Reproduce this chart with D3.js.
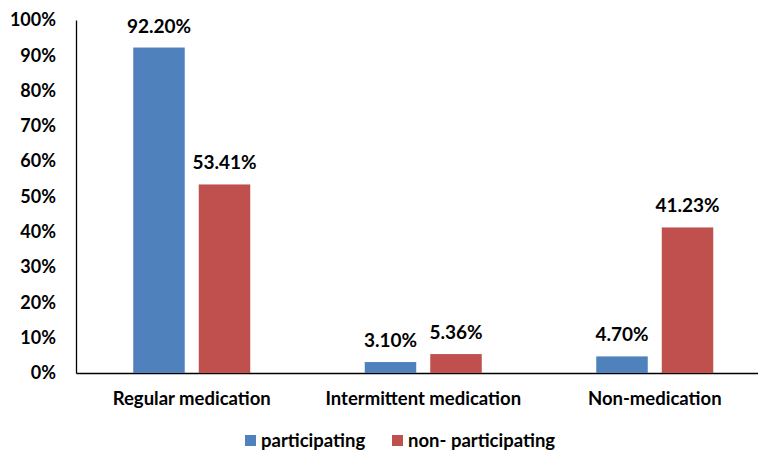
<!DOCTYPE html>
<html>
<head>
<meta charset="utf-8">
<script src="https://cdn.jsdelivr.net/npm/d3@7"></script>
<style>
  body { margin: 0; background: #fff; }
  text { font-family: Lato, "Open Sans", sans-serif; font-weight: bold; fill: #000; }
</style>
</head>
<body>
<div id="chart"></div>
<script>
const categories = ["Regular medication", "Intermittent medication", "Non-medication"];
const seriesNames = ["participating", "non- participating"];
const participating = [92.20, 3.10, 4.70];
const nonParticipating = [53.41, 5.36, 41.23];
const yTicks = [0, 10, 20, 30, 40, 50, 60, 70, 80, 90, 100];
const colors = ["#4F81BD", "#C0504D"];

const width = 758, height = 453;
const margin = {top: 20, left: 76, bottom: 80};
const plotRight = 770.5;

const svg = d3.select("#chart")
    .append("svg")
    .attr("width", width)
    .attr("height", height);

const x0 = d3.scaleBand()
    .domain(categories)
    .range([margin.left, plotRight])
    .paddingInner(0)
    .paddingOuter(0);

// inner band: two bars ~51.5 wide, ~14 gap
const x1 = d3.scaleBand()
    .domain(seriesNames)
    .range([x0.bandwidth() / 2 - 58.5, x0.bandwidth() / 2 + 58.5])
    .paddingInner(0.214);

const y = d3.scaleLinear()
    .domain([0, 100])
    .range([373, margin.top]);

const data = categories.map((c, i) => ({
    cat: c,
    vals: [
        {name: seriesNames[0], v: participating[i], col: colors[0]},
        {name: seriesNames[1], v: nonParticipating[i], col: colors[1]}
    ]
}));

// y axis
const yAxis = svg.append("g")
    .attr("transform", `translate(${margin.left},0)`)
    .call(d3.axisLeft(y).tickValues(yTicks).tickSize(0).tickPadding(20).tickFormat(d => d + "%"));
yAxis.select(".domain").attr("stroke", "#000").attr("stroke-width", 1.3);
yAxis.selectAll("text").style("font-size", "18px").style("font-family", null);

// x axis
const xAxis = svg.append("g")
    .attr("transform", `translate(0,${y(0)})`)
    .call(d3.axisBottom(x0).tickSize(0).tickPadding(19));
xAxis.select(".domain").attr("stroke", "#000").attr("stroke-width", 1.3);
xAxis.selectAll("text").style("font-size", "18.5px").style("font-family", null);

// bars
const groups = svg.selectAll("g.grp")
    .data(data)
    .enter()
    .append("g")
    .attr("class", "grp")
    .attr("transform", d => `translate(${x0(d.cat)},0)`);

groups.selectAll("rect")
    .data(d => d.vals)
    .enter()
    .append("rect")
    .attr("x", d => x1(d.name))
    .attr("y", d => y(d.v))
    .attr("width", x1.bandwidth())
    .attr("height", d => y(0) - y(d.v))
    .attr("fill", d => d.col);

groups.selectAll("text.lbl")
    .data(d => d.vals)
    .enter()
    .append("text")
    .attr("class", "lbl")
    .attr("x", d => x1(d.name) + x1.bandwidth() / 2)
    .attr("y", d => y(d.v) - 15)
    .attr("text-anchor", "middle")
    .style("font-size", "19px")
    .text(d => d.v.toFixed(2) + "%");

// legend
const legend = svg.append("g").attr("transform", "translate(245,441)");
const legX = [0, 147];
seriesNames.forEach((n, i) => {
    legend.append("rect")
        .attr("x", legX[i])
        .attr("y", -6)
        .attr("width", 11)
        .attr("height", 11)
        .attr("fill", colors[i]);
    legend.append("text")
        .attr("x", legX[i] + 16)
        .attr("y", 0)
        .attr("dy", "0.35em")
        .style("font-size", "18.5px")
        .text(n);
});
</script>
</body>
</html>
